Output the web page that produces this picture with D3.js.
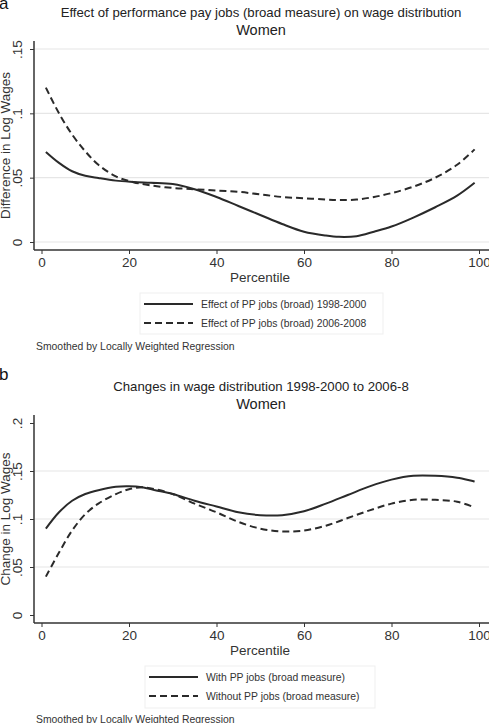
<!DOCTYPE html>
<html>
<head>
<meta charset="utf-8">
<script src="https://cdn.jsdelivr.net/npm/d3@7"></script>
<style>
  body { margin: 0; background: #fff; }
  svg { font-family: "Liberation Sans", Arial, sans-serif; fill: #333; }
</style>
</head>
<body>
<div id="chart"></div>
<script>
const W = 489, H = 723;

// panel a: effect of PP jobs
const pctA = [1, 4, 7, 10, 13, 17, 21, 25, 30, 35, 40, 45, 50, 55, 60, 65, 68, 72, 76, 80, 85, 90, 95, 99];
const effect1998 = [0.070, 0.0615, 0.055, 0.0515, 0.0497, 0.0477, 0.0467, 0.046, 0.045, 0.041, 0.035, 0.028, 0.021, 0.014, 0.008, 0.005, 0.004, 0.0045, 0.008, 0.012, 0.019, 0.027, 0.036, 0.046];
const effect2006 = [0.120, 0.100, 0.0835, 0.0705, 0.060, 0.051, 0.0465, 0.044, 0.042, 0.041, 0.040, 0.039, 0.037, 0.035, 0.034, 0.033, 0.0326, 0.033, 0.035, 0.038, 0.043, 0.050, 0.060, 0.072];

// panel b: changes in wage distribution
const pctB = [1, 4, 7, 10, 13, 17, 20, 23, 26, 30, 35, 40, 45, 50, 55, 60, 65, 70, 75, 80, 85, 90, 95, 99];
const withPP = [0.090, 0.107, 0.119, 0.126, 0.130, 0.1335, 0.134, 0.133, 0.130, 0.126, 0.119, 0.113, 0.107, 0.104, 0.104, 0.108, 0.116, 0.125, 0.134, 0.141, 0.145, 0.145, 0.143, 0.139];
const withoutPP = [0.040, 0.065, 0.088, 0.105, 0.116, 0.126, 0.131, 0.133, 0.131, 0.126, 0.116, 0.107, 0.097, 0.090, 0.087, 0.088, 0.093, 0.101, 0.109, 0.116, 0.120, 0.120, 0.118, 0.112];

const xTicks = [0, 20, 40, 60, 80, 100];
const yTicksA = [0, 0.05, 0.1, 0.15];
const yTicksB = [0, 0.05, 0.1, 0.15, 0.2];
const fmt = v => v === 0 ? "0" : String(v).replace(/^0/, "");

const svg = d3.select("#chart").append("svg")
  .attr("width", W).attr("height", H);

const x = d3.scaleLinear().domain([0, 100]).range([41.5, 479]);

function panel(cfg) {
  const g = svg.append("g");
  const y = d3.scaleLinear().domain([0, cfg.yMax]).range([cfg.y0, cfg.yTop]);

  // panel letter and titles
  g.append("text").attr("x", -1).attr("y", cfg.letterY)
    .style("font-size", "17px").attr("fill", "#111").text(cfg.letter);
  g.append("text").attr("x", 261).attr("y", cfg.titleY).attr("text-anchor", "middle")
    .style("font-size", "13.2px").attr("fill", "#222").text(cfg.title);
  g.append("text").attr("x", 261).attr("y", cfg.titleY + 18).attr("text-anchor", "middle")
    .style("font-size", "14.5px").attr("fill", "#222").text("Women");

  // gridlines
  g.selectAll(".grid").data(cfg.grid).join("line")
    .attr("x1", 35).attr("x2", W)
    .attr("y1", d => y(d)).attr("y2", d => y(d))
    .attr("stroke", "#e6e6e6").attr("stroke-width", 1.2);

  // y axis
  const yAxis = g.append("g").attr("transform", `translate(34,0)`)
    .call(d3.axisLeft(y).tickValues(cfg.yTicks).tickFormat(fmt).tickSize(4).tickPadding(3));
  yAxis.select(".domain").attr("d", `M0,${cfg.axisTop}V${cfg.axisBottom}`)
    .attr("stroke", "#333").attr("stroke-width", 1.5);
  yAxis.selectAll(".tick line").attr("stroke", "#333");
  yAxis.selectAll(".tick text")
    .attr("transform", "rotate(-90)")
    .attr("x", 0).attr("y", -12).attr("dy", "0")
    .attr("text-anchor", "middle")
    .style("font-size", "13.5px").attr("fill", "#333");

  // x axis
  const xAxis = g.append("g").attr("transform", `translate(0,${cfg.axisBottom})`)
    .call(d3.axisBottom(x).tickValues(xTicks).tickSize(4).tickPadding(3));
  xAxis.select(".domain").attr("d", `M34,0H${W}`)
    .attr("stroke", "#333").attr("stroke-width", 1.5);
  xAxis.selectAll(".tick line").attr("stroke", "#333");
  xAxis.selectAll(".tick text").style("font-size", "13.5px").attr("fill", "#333");

  // axis titles
  g.append("text").attr("x", 260).attr("y", cfg.axisBottom + 32).attr("text-anchor", "middle")
    .style("font-size", "13.5px").attr("fill", "#333").text("Percentile");
  g.append("text")
    .attr("transform", `translate(10,${(y(0) + y(cfg.yMax)) / 2}) rotate(-90)`)
    .attr("text-anchor", "middle")
    .style("font-size", "13.5px").attr("fill", "#333").text(cfg.yLabel);

  // lines
  const line = d3.line().x(d => x(d[0])).y(d => y(d[1])).curve(d3.curveCatmullRom);
  cfg.series.forEach(s => {
    g.append("path")
      .datum(cfg.pct.map((p, i) => [p, s.values[i]]))
      .attr("d", line)
      .attr("fill", "none").attr("stroke", "#2a2a2a").attr("stroke-width", 2)
      .attr("stroke-dasharray", s.dash);
  });

  // legend
  const L = cfg.legend;
  g.append("rect").attr("x", L.x).attr("y", L.y).attr("width", L.w).attr("height", L.h)
    .attr("fill", "#fff").attr("stroke", "#efefef").attr("stroke-width", 1);
  cfg.series.forEach((s, i) => {
    const ly = L.y + 11 + i * 19;
    g.append("line").attr("x1", L.x + 4).attr("x2", L.x + 53)
      .attr("y1", ly).attr("y2", ly)
      .attr("stroke", "#2a2a2a").attr("stroke-width", 1.8).attr("stroke-dasharray", s.dash);
    g.append("text").attr("x", L.x + 61).attr("y", ly + 3.5)
      .style("font-size", "10.4px").attr("fill", "#333").text(s.name);
  });

  g.append("text").attr("x", 36).attr("y", cfg.noteY)
    .style("font-size", "10.4px").attr("fill", "#333").text("Smoothed by Locally Weighted Regression");
}

panel({
  letter: "a", letterY: 9, title: "Effect of performance pay jobs (broad measure) on wage distribution", titleY: 17,
  yMax: 0.15, y0: 242, yTop: 49, axisTop: 41, axisBottom: 250,
  yTicks: yTicksA, grid: yTicksA, yLabel: "Difference in Log Wages",
  pct: pctA,
  series: [
    { name: "Effect of PP jobs (broad) 1998-2000", values: effect1998, dash: null },
    { name: "Effect of PP jobs (broad) 2006-2008", values: effect2006, dash: "7,4" }
  ],
  legend: { x: 140, y: 293, w: 243, h: 41 },
  noteY: 350
});

panel({
  letter: "b", letterY: 380, title: "Changes in wage distribution 1998-2000 to 2006-8", titleY: 391,
  yMax: 0.2, y0: 615, yTop: 423, axisTop: 415, axisBottom: 623,
  yTicks: yTicksB, grid: [0.05, 0.1, 0.15], yLabel: "Change in Log Wages",
  pct: pctB,
  series: [
    { name: "With PP jobs (broad measure)", values: withPP, dash: null },
    { name: "Without PP jobs (broad measure)", values: withoutPP, dash: "7,4" }
  ],
  legend: { x: 145, y: 666, w: 230, h: 42 },
  noteY: 723
});
</script>
</body>
</html>
